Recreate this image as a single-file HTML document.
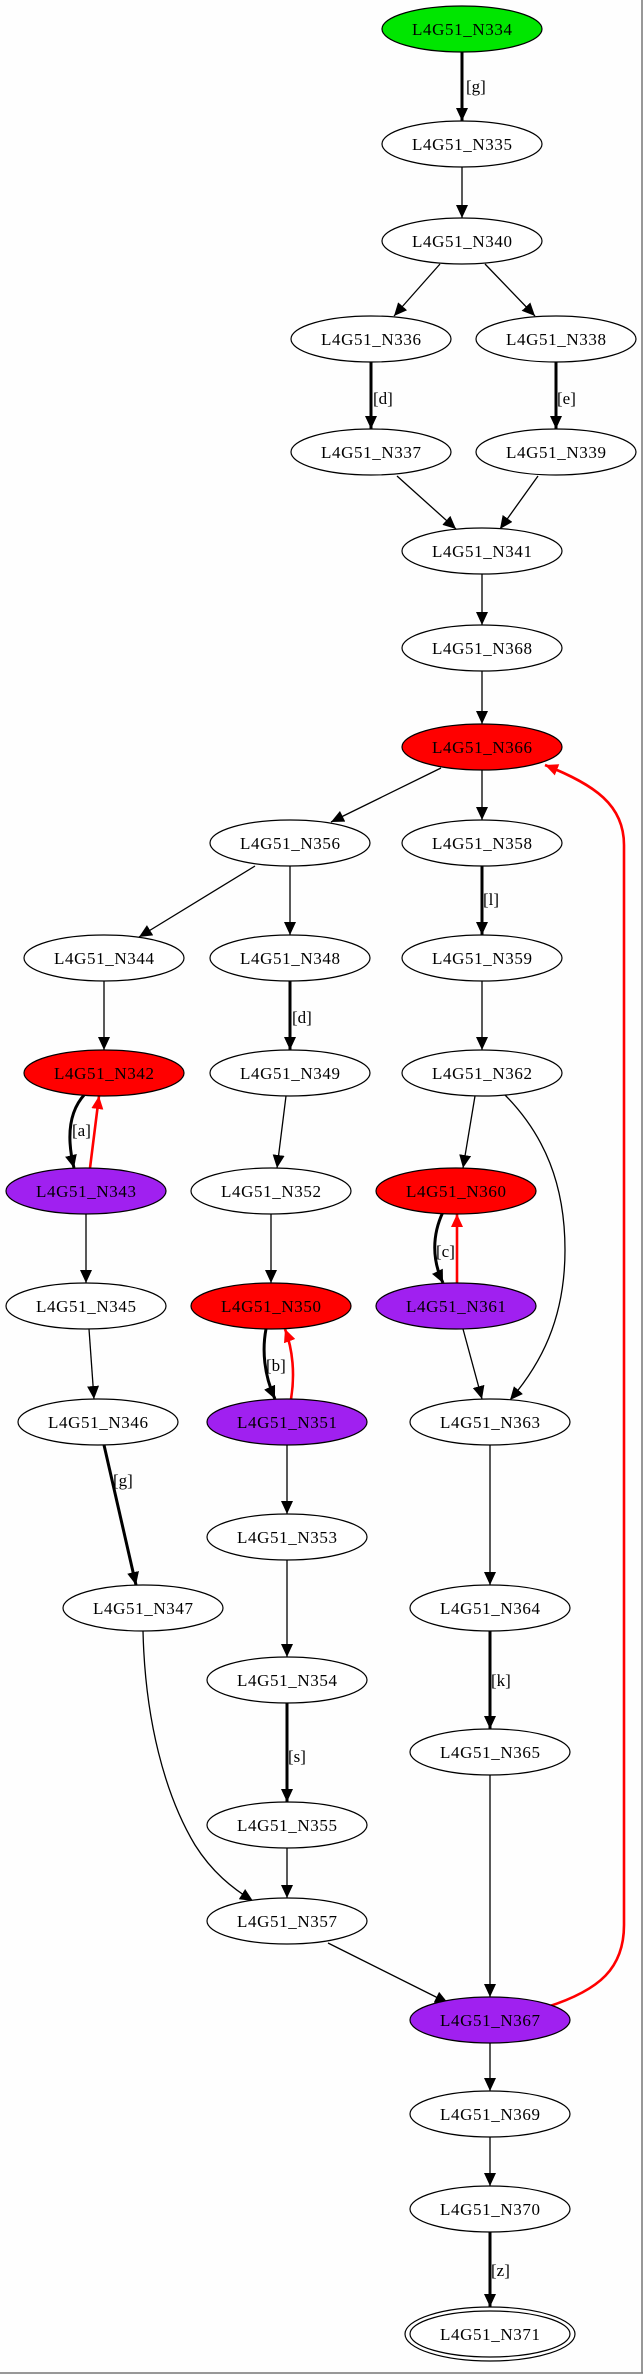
<!DOCTYPE html>
<html><head><meta charset="utf-8"><style>
html,body{margin:0;padding:0;background:#fff;}
svg{display:block;}
text{font-family:"Liberation Serif",serif;font-size:17px;fill:#000;}
.n{fill:#fff;stroke:#000;stroke-width:1.2;}
.e{fill:none;stroke:#000;stroke-width:1.3;}
.b{fill:none;stroke:#000;stroke-width:3;}
.r{fill:none;stroke:#f00;stroke-width:2.6;}
</style></head><body>
<svg width="643" height="2375" viewBox="0 0 643 2375" xmlns="http://www.w3.org/2000/svg">
<defs>
<marker id="a" markerUnits="userSpaceOnUse" markerWidth="14" markerHeight="12" refX="13" refY="6" orient="auto"><path d="M0,0 L13,6 L0,12 z" fill="#000"/></marker>
<marker id="ar" markerUnits="userSpaceOnUse" markerWidth="14" markerHeight="12" refX="13" refY="6" orient="auto"><path d="M0,0 L13,6 L0,12 z" fill="#f00"/></marker>
</defs>
<rect width="643" height="2375" fill="#fefefe"/>
<line x1="642" y1="0" x2="642" y2="2373" stroke="#777" stroke-width="1.5"/>
<line x1="0" y1="2373" x2="643" y2="2373" stroke="#777" stroke-width="1.5"/>

<!-- edges -->
<g marker-end="url(#a)">
<path class="b" d="M462 52 L462 121"/>
<path class="e" d="M462 167 L462 218"/>
<path class="e" d="M440 264 L394 316"/>
<path class="e" d="M485 264 L535 316"/>
<path class="b" d="M371 362 L371 429"/>
<path class="b" d="M556 362 L556 429"/>
<path class="e" d="M397 476 L456 529"/>
<path class="e" d="M538 476 L500 529"/>
<path class="e" d="M482 574 L482 625"/>
<path class="e" d="M482 671 L482 724"/>
<path class="e" d="M441 768 L331 822"/>
<path class="e" d="M482 770 L482 820"/>
<path class="e" d="M255 866 L139 937"/>
<path class="e" d="M290 866 L290 935"/>
<path class="b" d="M482 866 L482 935"/>
<path class="e" d="M104 981 L104 1050"/>
<path class="b" d="M290 981 L290 1050"/>
<path class="e" d="M482 981 L482 1050"/>
<path class="b" d="M85 1094 C70 1110 66 1135 74 1168"/>
<path class="e" d="M286 1096 L277 1168"/>
<path class="e" d="M475 1096 L463 1168"/>
<path class="e" d="M504 1094 C545 1135 565 1185 565 1250 C565 1320 540 1365 510 1400"/>
<path class="e" d="M86 1214 L86 1283"/>
<path class="e" d="M271 1214 L271 1283"/>
<path class="b" d="M443 1212 C432 1235 432 1260 443 1283"/>
<path class="e" d="M89 1329 L94 1399"/>
<path class="b" d="M266 1329 C262 1350 264 1375 275 1399"/>
<path class="e" d="M463 1329 L482 1399"/>
<path class="b" d="M104 1445 L136 1585"/>
<path class="e" d="M287 1445 L287 1514"/>
<path class="e" d="M490 1445 L490 1585"/>
<path class="e" d="M287 1560 L287 1657"/>
<path class="b" d="M490 1631 L490 1729"/>
<path class="b" d="M287 1703 L287 1802"/>
<path class="e" d="M143 1631 C145 1720 165 1795 195 1845 C212 1872 232 1888 253 1901"/>
<path class="e" d="M287 1848 L287 1898"/>
<path class="e" d="M328 1943 L448 2003"/>
<path class="e" d="M490 1775 L490 1997"/>
<path class="e" d="M490 2043 L490 2091"/>
<path class="e" d="M490 2137 L490 2186"/>
<path class="b" d="M490 2232 L490 2307"/>
</g>
<g marker-end="url(#ar)">
<path class="r" d="M90 1168 L99 1096"/>
<path class="r" d="M457 1283 L457 1214"/>
<path class="r" d="M291 1399 C295 1375 293 1350 285 1329"/>
<path class="r" d="M547 2007 C600 1990 624 1968 624 1925 L624 845 C624 805 595 785 545 765"/>
</g>

<!-- labels -->
<text x="466" y="92">[g]</text>
<text x="373" y="404">[d]</text>
<text x="557" y="404">[e]</text>
<text x="483" y="905">[l]</text>
<text x="292" y="1023">[d]</text>
<text x="72" y="1136">[a]</text>
<text x="436" y="1257">[c]</text>
<text x="266" y="1371">[b]</text>
<text x="113" y="1486">[g]</text>
<text x="491" y="1686">[k]</text>
<text x="288" y="1762">[s]</text>
<text x="491" y="2276">[z]</text>

<!-- nodes -->
<g text-anchor="middle">
<ellipse cx="462" cy="29" rx="80" ry="23" class="n" style="fill:#00e600"/><text x="462" y="35" textLength="100">L4G51_N334</text>
<ellipse cx="462" cy="144" rx="80" ry="23" class="n"/><text x="462" y="150" textLength="100">L4G51_N335</text>
<ellipse cx="462" cy="241" rx="80" ry="23" class="n"/><text x="462" y="247" textLength="100">L4G51_N340</text>
<ellipse cx="371" cy="339" rx="80" ry="23" class="n"/><text x="371" y="345" textLength="100">L4G51_N336</text>
<ellipse cx="556" cy="339" rx="80" ry="23" class="n"/><text x="556" y="345" textLength="100">L4G51_N338</text>
<ellipse cx="371" cy="452" rx="80" ry="23" class="n"/><text x="371" y="458" textLength="100">L4G51_N337</text>
<ellipse cx="556" cy="452" rx="80" ry="23" class="n"/><text x="556" y="458" textLength="100">L4G51_N339</text>
<ellipse cx="482" cy="551" rx="80" ry="23" class="n"/><text x="482" y="557" textLength="100">L4G51_N341</text>
<ellipse cx="482" cy="648" rx="80" ry="23" class="n"/><text x="482" y="654" textLength="100">L4G51_N368</text>
<ellipse cx="482" cy="747" rx="80" ry="23" class="n" style="fill:#f00"/><text x="482" y="753" textLength="100">L4G51_N366</text>
<ellipse cx="290" cy="843" rx="80" ry="23" class="n"/><text x="290" y="849" textLength="100">L4G51_N356</text>
<ellipse cx="482" cy="843" rx="80" ry="23" class="n"/><text x="482" y="849" textLength="100">L4G51_N358</text>
<ellipse cx="104" cy="958" rx="80" ry="23" class="n"/><text x="104" y="964" textLength="100">L4G51_N344</text>
<ellipse cx="290" cy="958" rx="80" ry="23" class="n"/><text x="290" y="964" textLength="100">L4G51_N348</text>
<ellipse cx="482" cy="958" rx="80" ry="23" class="n"/><text x="482" y="964" textLength="100">L4G51_N359</text>
<ellipse cx="104" cy="1073" rx="80" ry="23" class="n" style="fill:#f00"/><text x="104" y="1079" textLength="100">L4G51_N342</text>
<ellipse cx="290" cy="1073" rx="80" ry="23" class="n"/><text x="290" y="1079" textLength="100">L4G51_N349</text>
<ellipse cx="482" cy="1073" rx="80" ry="23" class="n"/><text x="482" y="1079" textLength="100">L4G51_N362</text>
<ellipse cx="86" cy="1191" rx="80" ry="23" class="n" style="fill:#a020f0"/><text x="86" y="1197" textLength="100">L4G51_N343</text>
<ellipse cx="271" cy="1191" rx="80" ry="23" class="n"/><text x="271" y="1197" textLength="100">L4G51_N352</text>
<ellipse cx="456" cy="1191" rx="80" ry="23" class="n" style="fill:#f00"/><text x="456" y="1197" textLength="100">L4G51_N360</text>
<ellipse cx="86" cy="1306" rx="80" ry="23" class="n"/><text x="86" y="1312" textLength="100">L4G51_N345</text>
<ellipse cx="271" cy="1306" rx="80" ry="23" class="n" style="fill:#f00"/><text x="271" y="1312" textLength="100">L4G51_N350</text>
<ellipse cx="456" cy="1306" rx="80" ry="23" class="n" style="fill:#a020f0"/><text x="456" y="1312" textLength="100">L4G51_N361</text>
<ellipse cx="98" cy="1422" rx="80" ry="23" class="n"/><text x="98" y="1428" textLength="100">L4G51_N346</text>
<ellipse cx="287" cy="1422" rx="80" ry="23" class="n" style="fill:#a020f0"/><text x="287" y="1428" textLength="100">L4G51_N351</text>
<ellipse cx="490" cy="1422" rx="80" ry="23" class="n"/><text x="490" y="1428" textLength="100">L4G51_N363</text>
<ellipse cx="287" cy="1537" rx="80" ry="23" class="n"/><text x="287" y="1543" textLength="100">L4G51_N353</text>
<ellipse cx="143" cy="1608" rx="80" ry="23" class="n"/><text x="143" y="1614" textLength="100">L4G51_N347</text>
<ellipse cx="490" cy="1608" rx="80" ry="23" class="n"/><text x="490" y="1614" textLength="100">L4G51_N364</text>
<ellipse cx="287" cy="1680" rx="80" ry="23" class="n"/><text x="287" y="1686" textLength="100">L4G51_N354</text>
<ellipse cx="490" cy="1752" rx="80" ry="23" class="n"/><text x="490" y="1758" textLength="100">L4G51_N365</text>
<ellipse cx="287" cy="1825" rx="80" ry="23" class="n"/><text x="287" y="1831" textLength="100">L4G51_N355</text>
<ellipse cx="287" cy="1921" rx="80" ry="23" class="n"/><text x="287" y="1927" textLength="100">L4G51_N357</text>
<ellipse cx="490" cy="2020" rx="80" ry="23" class="n" style="fill:#a020f0"/><text x="490" y="2026" textLength="100">L4G51_N367</text>
<ellipse cx="490" cy="2114" rx="80" ry="23" class="n"/><text x="490" y="2120" textLength="100">L4G51_N369</text>
<ellipse cx="490" cy="2209" rx="80" ry="23" class="n"/><text x="490" y="2215" textLength="100">L4G51_N370</text>
<ellipse cx="490" cy="2334" rx="85" ry="27" class="n"/>
<ellipse cx="490" cy="2334" rx="80" ry="23" class="n"/><text x="490" y="2340" textLength="100">L4G51_N371</text>
</g>
</svg>
</body></html>
